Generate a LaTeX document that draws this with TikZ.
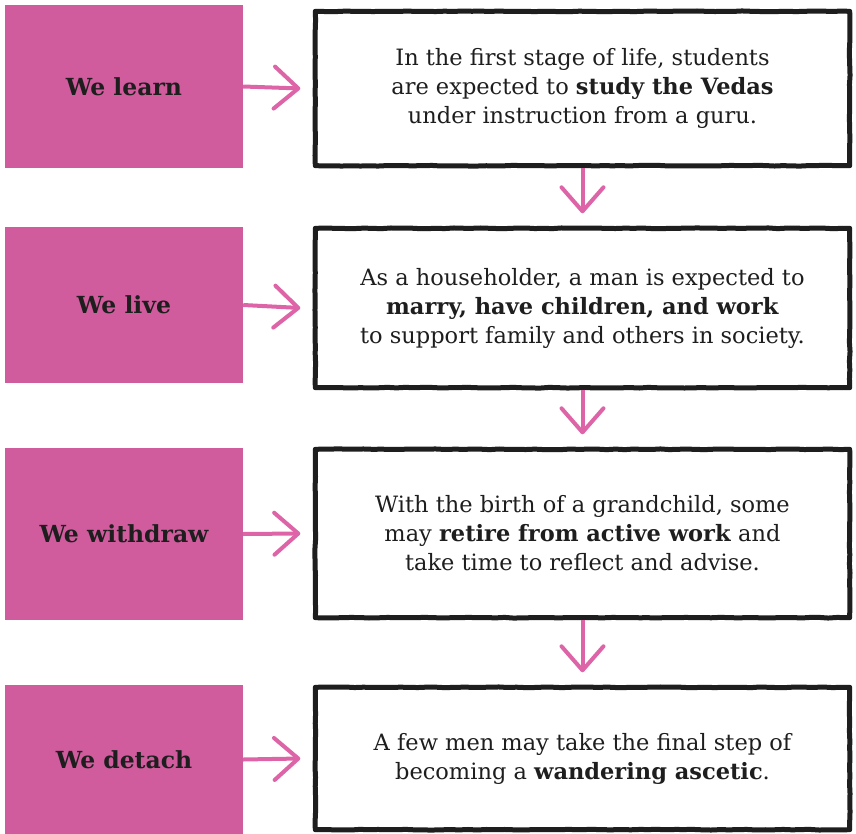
\documentclass[tikz,border=0pt]{standalone}
\usepackage{fontspec}
\setmainfont{DejaVu Serif}
\usetikzlibrary{arrows.meta,decorations.pathmorphing}
\definecolor{stagepink}{RGB}{208,92,158}
\definecolor{arrowpink}{RGB}{222,100,168}
\definecolor{inkblack}{RGB}{30,30,30}
\begin{document}
\pgfmathsetseed{4}
\begin{tikzpicture}[x=1pt,y=1pt,
  stagebox/.style={fill=stagepink, draw=none, minimum width=238pt, inner sep=0pt,
    font=\bfseries\fontsize{23.5}{27}\selectfont, text=inkblack},
  textbox/.style={draw=none, fill=white, minimum width=534pt, inner sep=0pt, align=center,
    font=\fontsize{22.5}{29}\selectfont, text=inkblack},
  rough/.style={draw=inkblack, line width=5pt, line join=round, line cap=round,
    decorate, decoration={random steps, segment length=9pt, amplitude=0.35pt}},
  flow/.style={draw=arrowpink, line width=4pt, -{Straight Barb[length=24pt,width=42pt,round]}},
]
\useasboundingbox (0,0) rectangle (856,-834);
\fill[white] (0,0) rectangle (856,-834);

% pink stage boxes
\node[stagebox, minimum height=163pt] (p1) at (124,-86.5) {We learn};
\node[stagebox, minimum height=156pt] (p2) at (124,-305) {We live};
\node[stagebox, minimum height=172pt] (p3) at (124,-534) {We withdraw};
\node[stagebox, minimum height=149pt] (p4) at (124,-759.5) {We detach};

% text boxes
\node[textbox, minimum height=154pt] (w1) at (582.5,-88.5)
  {In the first stage of life, students\\ are expected to \textbf{study the Vedas}\\ under instruction from a guru.};
\node[textbox, minimum height=159pt] (w2) at (582.5,-308)
  {As a householder, a man is expected to\\ \textbf{marry, have children, and work}\\ to support family and others in society.};
\node[textbox, minimum height=168pt] (w3) at (582.5,-533.5)
  {With the birth of a grandchild, some\\ may \textbf{retire from active work} and\\ take time to reflect and advise.};
\node[textbox, minimum height=142pt] (w4) at (582.5,-758.5)
  {A few men may take the final step of\\ becoming a \textbf{wandering ascetic}.};

% hand-drawn borders
\foreach \b in {w1,w2,w3,w4}{
  \draw[rough] (\b.north west) rectangle (\b.south east);
}

% horizontal arrows
\draw[flow] (p1.east) -- ([xshift=-15pt]w1.west);
\draw[flow] (p2.east) -- ([xshift=-15pt]w2.west);
\draw[flow] (p3.east) -- ([xshift=-15pt]w3.west);
\draw[flow] (p4.east) -- ([xshift=-15pt]w4.west);

% vertical arrows
\draw[flow] ([yshift=-2.5pt]w1.south) -- ([yshift=15pt]w2.north);
\draw[flow] ([yshift=-2.5pt]w2.south) -- ([yshift=15pt]w3.north);
\draw[flow] ([yshift=-2.5pt]w3.south) -- ([yshift=15pt]w4.north);
\end{tikzpicture}
\end{document}
